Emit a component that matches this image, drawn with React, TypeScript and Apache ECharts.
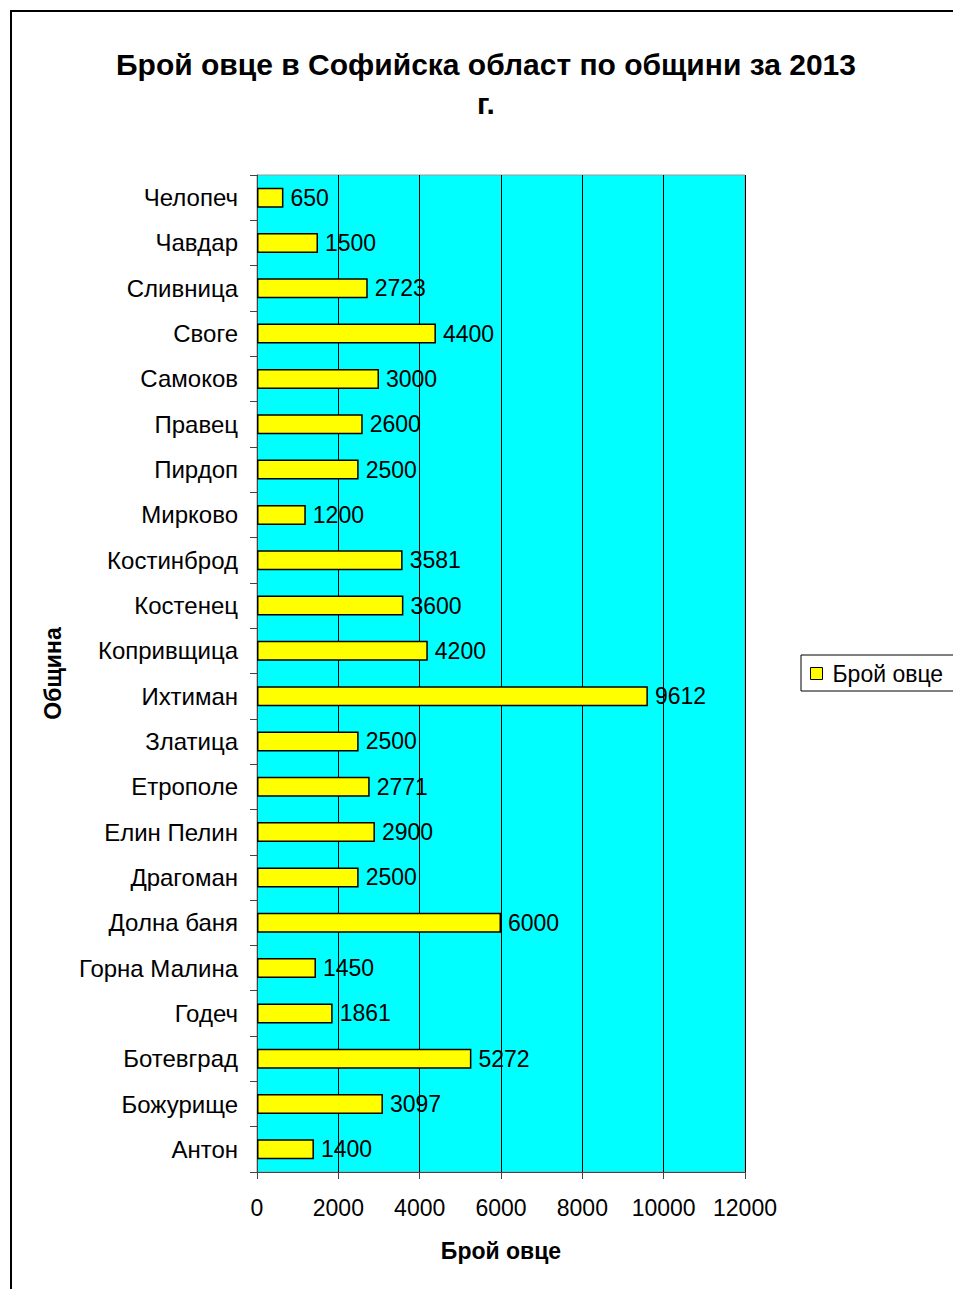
import React, { useEffect, useRef } from "react";
import * as echarts from "echarts";

const categories = [
  "Антон", "Божурище", "Ботевград", "Годеч", "Горна Малина", "Долна баня",
  "Драгоман", "Елин Пелин", "Етрополе", "Златица", "Ихтиман", "Копривщица",
  "Костенец", "Костинброд", "Мирково", "Пирдоп", "Правец", "Самоков",
  "Своге", "Сливница", "Чавдар", "Челопеч",
];
const sheepCounts = [
  1400, 3097, 5272, 1861, 1450, 6000, 2500, 2900, 2771, 2500, 9612, 4200,
  3600, 3581, 1200, 2500, 2600, 3000, 4400, 2723, 1500, 650,
];
const seriesName = "Брой овце";
const titleText = "Брой овце в Софийска област по общини за 2013\nг.";
const xAxisName = "Брой овце";
const yAxisName = "Община";

const FONT = "'Liberation Sans', Arial, sans-serif";

export default function App() {
  const ref = useRef<HTMLDivElement>(null);
  useEffect(() => {
    if (!ref.current) return;
    const chart = echarts.init(ref.current, null, { renderer: "svg" });
    chart.setOption({
      animation: false,
      backgroundColor: "#ffffff",
      textStyle: { fontFamily: FONT },
      title: {
        text: titleText,
        left: 481,
        textAlign: "center",
        top: 40,
        textStyle: {
          fontFamily: FONT,
          fontSize: 30,
          fontWeight: "bold",
          color: "#000",
          lineHeight: 39,
        },
      },
      graphic: [
        {
          type: "rect",
          shape: { x: 11, y: 11, width: 1000, height: 1320 },
          style: { fill: "none", stroke: "#000", lineWidth: 2 },
          silent: true,
        },
      ],
      legend: {
        left: 801,
        top: 655,
        orient: "vertical",
        icon: "rect",
        itemWidth: 12,
        itemHeight: 12,
        itemGap: 0,
        padding: [7, 40, 6, 9],
        borderColor: "#000",
        borderWidth: 1,
        backgroundColor: "#fff",
        textStyle: { fontFamily: FONT, fontSize: 23, color: "#000", padding: [0, 0, 0, 5] },
        itemStyle: { borderColor: "#000", borderWidth: 1 },
        data: [seriesName],
      },
      grid: {
        left: 257,
        top: 175,
        width: 488,
        height: 997,
        show: true,
        backgroundColor: "#00FFFF",
        borderColor: "#999999",
        borderWidth: 1,
        containLabel: false,
      },
      xAxis: {
        type: "value",
        min: 0,
        max: 12000,
        interval: 2000,
        name: xAxisName,
        nameLocation: "middle",
        nameGap: 67,
        nameTextStyle: { fontFamily: FONT, fontSize: 23, fontWeight: "bold", color: "#000" },
        axisLine: { show: true, lineStyle: { color: "#444", width: 1 } },
        axisTick: { show: true, length: 7, lineStyle: { color: "#444" } },
        axisLabel: {
          fontFamily: FONT,
          fontSize: 23,
          color: "#000",
          margin: 24,
          formatter: (v: number) => String(v),
        },
        splitLine: { show: true, lineStyle: { color: "#000", width: 1 } },
      },
      yAxis: {
        type: "category",
        data: categories,
        name: yAxisName,
        nameLocation: "middle",
        nameRotate: 90,
        nameGap: 193,
        nameTextStyle: { fontFamily: FONT, fontSize: 23, fontWeight: "bold", color: "#000" },
        axisLine: { show: true, lineStyle: { color: "#444", width: 1 } },
        axisTick: { show: true, length: 7, lineStyle: { color: "#444" } },
        axisLabel: { fontFamily: FONT, fontSize: 24, color: "#000", margin: 19 },
        splitLine: { show: false },
      },
      series: [
        {
          name: seriesName,
          type: "bar",
          data: sheepCounts,
          barWidth: 20,
          itemStyle: { color: "#FFFF00", borderColor: "#000", borderWidth: 1.5 },
          label: {
            show: true,
            position: "right",
            distance: 7,
            fontFamily: FONT,
            fontSize: 23,
            color: "#000",
          },
        },
      ],
    });
    return () => chart.dispose();
  }, []);
  return (
    <div
      ref={ref}
      style={{ position: "absolute", left: 0, top: 0, width: 953, height: 1289 }}
    />
  );
}
